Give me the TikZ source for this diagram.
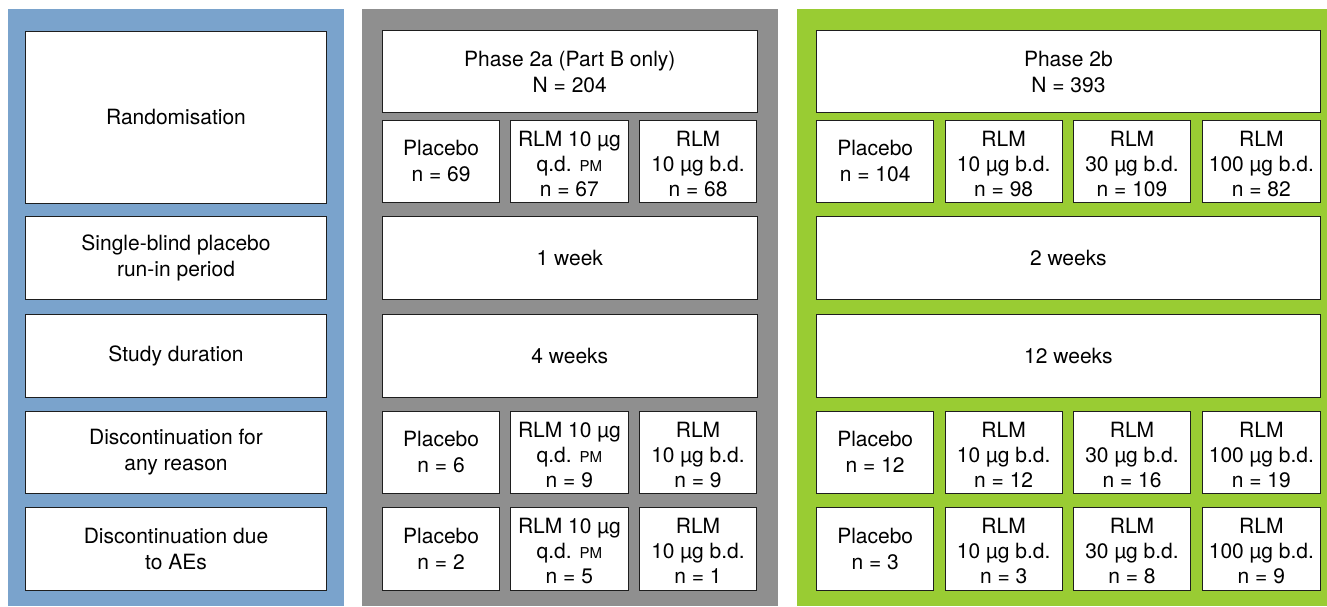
\documentclass[tikz,border=0pt]{standalone}
\usepackage{fontspec}
\setmainfont{TeX Gyre Heros}
\definecolor{panelblue}{RGB}{122,163,204}
\definecolor{panelgray}{RGB}{143,143,143}
\definecolor{panelgreen}{RGB}{153,204,51}
\definecolor{edge}{RGB}{30,30,30}
\newcommand{\pmtag}{{\fontsize{15}{25}\selectfont PM}}
% three stacked lines, drawn a little below the box centre
\newcommand{\lowstack}[1]{\raisebox{-5pt}[\height][\depth]{\begin{tabular}{@{}c@{}}#1\end{tabular}}}
\tikzset{
  cell/.style={draw=edge, fill=white, line width=0.9pt, inner sep=0pt, outer sep=0pt,
    align=center, font=\fontsize{21}{26}\selectfont},
  wide/.style={cell, minimum height=82.5pt},
  arm/.style={cell, minimum width=117.3pt, minimum height=82.5pt},
  armthree/.style={arm, font=\fontsize{21}{25}\selectfont}
}
\begin{document}
\begin{tikzpicture}[x=1pt, y=-1pt]
\useasboundingbox (0,0) rectangle (1327,606);
% background panels
\fill[panelblue]  (8,9)   rectangle (344,606);
\fill[panelgray]  (362,9) rectangle (777.7,606);
\fill[panelgreen] (797,9) rectangle (1327,606);

% row labels
\node[cell, minimum width=301.4pt, minimum height=172pt] (rand) at (176,117) {Randomisation};
\node[wide, minimum width=301.4pt] (runin) at (176,258) {Single-blind placebo\\run-in period};
\node[wide, minimum width=301.4pt] (dur)   at (176,355.75) {Study duration};
\node[wide, minimum width=301.4pt] (disc)  at (176,452.25) {Discontinuation for\\any reason};
\node[wide, minimum width=301.4pt] (discae) at (176,548.75) {Discontinuation due\\to AEs};

% phase 2a
\node[wide, minimum width=374.5pt] (pa) at (569.75,71.5) {Phase 2a (Part B only)\\N = 204};
\node[arm] (pa1) at (441.1,161.25) {Placebo\\n = 69};
\node[armthree] (pa2) at (569.35,161.25) {\lowstack{RLM 10 µg\\q.d. \pmtag\\n = 67}};
\node[armthree] (pa3) at (698,161.25) {\lowstack{RLM\\10 µg b.d.\\n = 68}};
\node[wide, minimum width=374.5pt] (parun) at (569.75,258) {1 week};
\node[wide, minimum width=374.5pt] (padur) at (569.75,355.75) {4 weeks};
\node[arm] (pad1) at (441.1,452.25) {Placebo\\n = 6};
\node[armthree] (pad2) at (569.35,452.25) {\lowstack{RLM 10 µg\\q.d. \pmtag\\n = 9}};
\node[armthree] (pad3) at (698,452.25) {\lowstack{RLM\\10 µg b.d.\\n = 9}};
\node[arm] (pae1) at (441.1,548.75) {Placebo\\n = 2};
\node[armthree] (pae2) at (569.35,548.75) {\lowstack{RLM 10 µg\\q.d. \pmtag\\n = 5}};
\node[armthree] (pae3) at (698,548.75) {\lowstack{RLM\\10 µg b.d.\\n = 1}};

% phase 2b
\node[wide, minimum width=503.3pt] (pb) at (1068.35,71.5) {Phase 2b\\N = 393};
\node[arm] (pb1) at (875.2,161.25) {Placebo\\n = 104};
\node[armthree] (pb2) at (1003.65,161.25) {\lowstack{RLM\\10 µg b.d.\\n = 98}};
\node[armthree] (pb3) at (1132,161.25) {\lowstack{RLM\\30 µg b.d.\\n = 109}};
\node[armthree] (pb4) at (1261.35,161.25) {\lowstack{RLM\\100 µg b.d.\\n = 82}};
\node[wide, minimum width=503.3pt] (pbrun) at (1068.35,258) {2 weeks};
\node[wide, minimum width=503.3pt] (pbdur) at (1068.35,355.75) {12 weeks};
\node[arm] (pbd1) at (875.2,452.25) {Placebo\\n = 12};
\node[armthree] (pbd2) at (1003.65,452.25) {\lowstack{RLM\\10 µg b.d.\\n = 12}};
\node[armthree] (pbd3) at (1132,452.25) {\lowstack{RLM\\30 µg b.d.\\n = 16}};
\node[armthree] (pbd4) at (1261.35,452.25) {\lowstack{RLM\\100 µg b.d.\\n = 19}};
\node[arm] (pbe1) at (875.2,548.75) {Placebo\\n = 3};
\node[armthree] (pbe2) at (1003.65,548.75) {\lowstack{RLM\\10 µg b.d.\\n = 3}};
\node[armthree] (pbe3) at (1132,548.75) {\lowstack{RLM\\30 µg b.d.\\n = 8}};
\node[armthree] (pbe4) at (1261.35,548.75) {\lowstack{RLM\\100 µg b.d.\\n = 9}};
\end{tikzpicture}
\end{document}
